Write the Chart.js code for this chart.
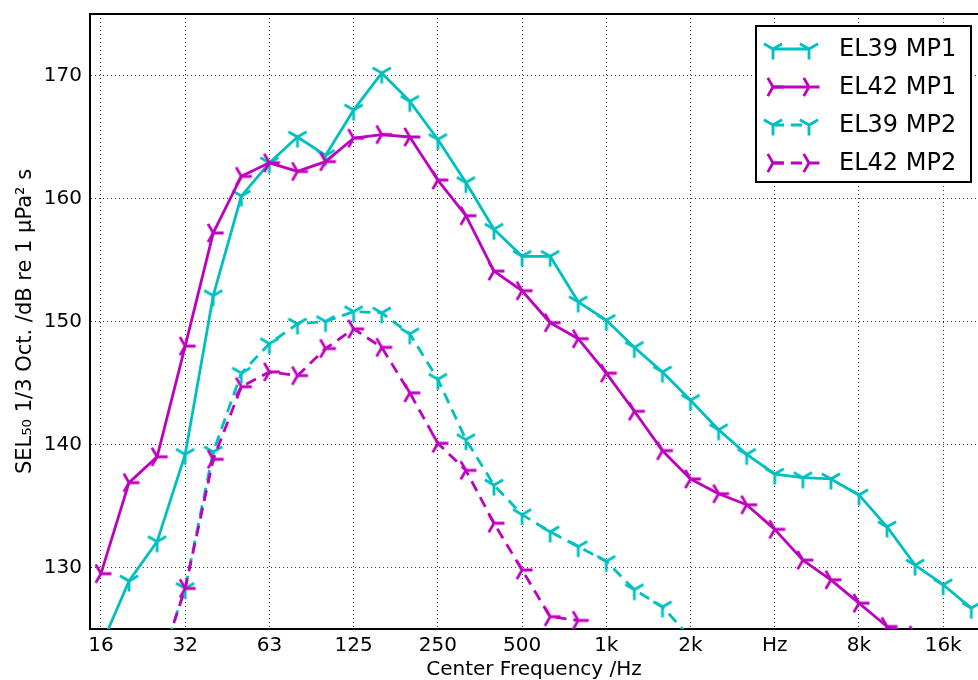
<!DOCTYPE html>
<html>
<head>
<meta charset="utf-8">
<script src="https://cdn.jsdelivr.net/npm/chart.js@4.4.1/dist/chart.umd.min.js"></script>
<style>
  html, body { margin: 0; padding: 0; background: #fff; overflow: hidden; }
  #wrap { position: relative; width: 978px; height: 680px; }
</style>
</head>
<body>
<div id="wrap"><canvas id="selChart" width="978" height="680"></canvas></div>
<script>
// 1/3 octave band centres (x = index into this list)
var bands = ['16','20','25','31.5','40','50','63','80','100','125','160','200','250','315','400','500',
             '630','800','1k','1.25k','1.6k','2k','2.5k','3.15k','4k','5k','6.3k','8k','10k','12.5k','16k','20k'];
var tickBands  = [0, 3, 6, 9, 12, 15, 18, 21, 24, 27, 30];
var tickLabels = ['16','32','63','125','250','500','1k','2k','Hz','8k','16k'];
var yTicks = [130, 140, 150, 160, 170];

var el39mp1 = [123.6, 128.9, 132.1, 139.2, 152.1, 160.2, 162.9, 165.0, 163.5, 167.2, 170.2, 167.9, 164.8, 161.3, 157.5, 155.3,
               155.3, 151.6, 150.1, 147.9, 145.9, 143.6, 141.2, 139.2, 137.6, 137.3, 137.2, 135.9, 133.3, 130.2, 128.6, 126.7];
var el42mp1 = [129.5, 136.9, 139.0, 148.0, 157.2, 161.8, 162.9, 162.2, 163.0, 164.9, 165.2, 165.0, 161.5, 158.6, 154.1, 152.5,
               149.9, 148.6, 145.8, 142.7, 139.5, 137.2, 136.0, 135.1, 133.1, 130.6, 129.0, 127.1, 125.2, 124.5, null, null];
var el39mp2 = [null, null, 121.5, 128.3, 139.4, 145.8, 148.2, 149.8, 150.0, 150.8, 150.7, 149.0, 145.3, 140.4, 136.7, 134.3,
               132.9, 131.7, 130.5, 128.2, 126.8, 124.3, null, null, null, null, null, null, null, null, null, null];
var el42mp2 = [null, null, 121.3, 128.3, 138.8, 144.7, 145.9, 145.6, 147.8, 149.4, 147.9, 144.2, 140.1, 137.9, 133.6, 129.8,
               126.0, 125.7, null, null, null, null, null, null, null, null, null, null, null, null, null, null];

var CYAN = '#00bfbf', MAGENTA = '#bf00bf';
var FONT = '"DejaVu Sans", sans-serif';

// matplotlib-like tri markers: stem angle given, arms 120deg apart
function triMarker(color, angle) {
  var r = 10.5, lw = 2.8;
  var size = Math.ceil(2 * r + lw + 2);
  var c = document.createElement('canvas');
  c.width = size; c.height = size;
  var g = c.getContext('2d');
  g.translate(size / 2, size / 2);
  g.strokeStyle = color;
  g.lineWidth = lw;
  g.beginPath();
  for (var k = 0; k < 3; k++) {
    var a = angle + k * 2 * Math.PI / 3;
    g.moveTo(0, 0);
    g.lineTo(r * Math.cos(a), r * Math.sin(a));
  }
  g.stroke();
  return c;
}
var triDownC  = triMarker(CYAN, Math.PI / 2);
var triRightM = triMarker(MAGENTA, 0);

function pts(vals) {
  return vals.map(function (v, i) { return { x: i, y: v }; });
}

function series(label, vals, color, marker, dash, order) {
  return {
    label: label,
    data: pts(vals),
    borderColor: color,
    backgroundColor: color,
    borderWidth: 2.8,
    borderDash: dash,
    borderCapStyle: 'butt',
    borderJoinStyle: 'round',
    pointStyle: marker,
    pointRadius: 11,
    tension: 0,
    fill: false,
    spanGaps: false,
    order: order
  };
}

// no extra label padding: keep the plot box where the figure had it
function noPad(scale) {
  scale.paddingTop = 0; scale.paddingBottom = 0;
  scale.paddingLeft = 0; scale.paddingRight = 0;
}

var legendBox = {
  id: 'legendBox',
  afterDraw: function (chart) {
    var ctx = chart.ctx, area = chart.chartArea;
    var w = 215, h = 156;
    var left = area.right - 7 - w, top = area.top + 12;
    ctx.save();
    ctx.fillStyle = '#fff';
    ctx.fillRect(left, top, w, h);
    ctx.lineWidth = 2;
    ctx.strokeStyle = '#000';
    ctx.strokeRect(left, top, w, h);
    ctx.font = '24px ' + FONT;
    ctx.textBaseline = 'middle';
    chart.data.datasets.forEach(function (ds, i) {
      var y = top + 23 + i * 38;
      var x1 = left + 17, x2 = left + 53;
      ctx.strokeStyle = ds.borderColor;
      ctx.lineWidth = ds.borderWidth;
      ctx.setLineDash(ds.borderDash || []);
      ctx.beginPath(); ctx.moveTo(x1, y); ctx.lineTo(x2, y); ctx.stroke();
      ctx.setLineDash([]);
      var m = ds.pointStyle;
      ctx.drawImage(m, x1 - m.width / 2, y - m.height / 2);
      ctx.drawImage(m, x2 - m.width / 2, y - m.height / 2);
      ctx.fillStyle = '#000';
      ctx.fillText(ds.label, left + 83, y + 1);
    });
    ctx.restore();
  }
};

var gridDots = { display: true, color: 'rgba(0,0,0,0.8)', lineWidth: 1, drawTicks: false };

new Chart(document.getElementById('selChart'), {
  type: 'line',
  data: {
    datasets: [
      series('EL39 MP1', el39mp1, CYAN, triDownC, [], 3),
      series('EL42 MP1', el42mp1, MAGENTA, triRightM, [], 2),
      series('EL39 MP2', el39mp2, CYAN, triDownC, [11, 7], 1),
      series('EL42 MP2', el42mp2, MAGENTA, triRightM, [11, 7], 0)
    ]
  },
  options: {
    responsive: false,
    animation: false,
    events: [],
    layout: { autoPadding: false, padding: { top: 14, left: 0, right: 0, bottom: 0 } },
    plugins: { legend: { display: false }, tooltip: { enabled: false } },
    scales: {
      x: {
        type: 'linear',
        position: 'bottom',
        min: -0.39,
        max: 31.24,
        afterBuildTicks: function (scale) {
          scale.ticks = tickBands.map(function (v) { return { value: v }; });
        },
        afterFit: function (scale) { scale.height = 51; noPad(scale); },
        ticks: {
          autoSkip: false, maxRotation: 0, padding: 5, color: '#000',
          font: { family: FONT, size: 20 },
          callback: function (value, index) { return tickLabels[index]; }
        },
        grid: gridDots,
        border: { display: true, color: '#000', width: 2, dash: [1, 3] },
        title: {
          display: true, text: 'Center Frequency /Hz', color: '#000',
          font: { family: FONT, size: 20, lineHeight: 1 }, padding: 0
        }
      },
      xTop: {
        type: 'linear',
        position: 'top',
        min: -0.39,
        max: 31.24,
        afterFit: function (scale) { scale.height = 0; noPad(scale); },
        ticks: { display: false },
        grid: { display: false, drawTicks: false },
        border: { display: true, color: '#000', width: 2 }
      },
      y: {
        type: 'linear',
        min: 125,
        max: 175,
        afterBuildTicks: function (scale) {
          scale.ticks = yTicks.map(function (v) { return { value: v }; });
        },
        afterFit: function (scale) { scale.width = 90; noPad(scale); },
        ticks: { padding: 8, color: '#000', font: { family: FONT, size: 20 } },
        grid: gridDots,
        border: { display: true, color: '#000', width: 2, dash: [1, 3] },
        title: {
          display: true, text: 'SEL\u2085\u2080 1/3 Oct. /dB re 1 \u00b5Pa\u00b2 s', color: '#000',
          font: { family: FONT, size: 21, lineHeight: 1 }, padding: { top: 15, bottom: 0 }
        }
      }
    }
  },
  plugins: [legendBox]
});
</script>
</body>
</html>
